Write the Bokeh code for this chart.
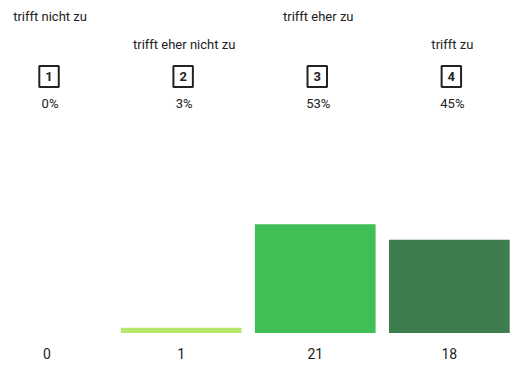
from bokeh.plotting import figure
from bokeh.models import Label, Range1d
from bokeh.embed import file_html
from bokeh.resources import INLINE

categories = ["trifft nicht zu", "trifft eher nicht zu", "trifft eher zu", "trifft zu"]
codes = ["1", "2", "3", "4"]
counts = [0, 1, 21, 18]
percents = ["0%", "3%", "53%", "45%"]
colors = ["#d8f0a0", "#b7e66c", "#3fbf55", "#3e7d4d"]

xs = list(range(len(categories)))

p = figure(width=510, height=365, output_backend="svg", toolbar_location=None,
           x_range=Range1d(-0.347, 3.456), y_range=Range1d(-6.3, 64.3),
           min_border=0, outline_line_color=None)
p.axis.visible = False
p.grid.visible = False
p.background_fill_color = "white"
p.border_fill_color = "white"

p.vbar(x=xs, top=counts, bottom=0, width=0.9, fill_color=colors, line_color=None)

FONT = "Roboto"
TXT = "#222222"
for i, x in enumerate(xs):
    # staggered category label
    p.add_layout(Label(x=x, y=349 if i % 2 == 0 else 321, y_units="screen", text=categories[i],
                       text_font=FONT, text_font_size="13px", text_color=TXT,
                       text_align="center", text_baseline="middle", x_offset=3))
    # boxed code number
    p.add_layout(Label(x=x, y=289, y_units="screen", text=codes[i],
                       text_font=FONT, text_font_size="13px", text_color=TXT,
                       text_font_style="bold", x_offset=2,
                       text_align="center", text_baseline="middle",
                       border_line_color="#222222", border_line_width=2, padding=6))
    # percent
    p.add_layout(Label(x=x, y=262, y_units="screen", text=percents[i],
                       text_font=FONT, text_font_size="13px", text_color=TXT,
                       text_align="center", text_baseline="middle", x_offset=3))
    # count
    p.add_layout(Label(x=x, y=12, y_units="screen", text=str(counts[i]),
                       text_font=FONT, text_font_size="14px", text_color=TXT,
                       text_align="center", text_baseline="middle"))

open("out.html", "w").write(file_html(p, INLINE))
